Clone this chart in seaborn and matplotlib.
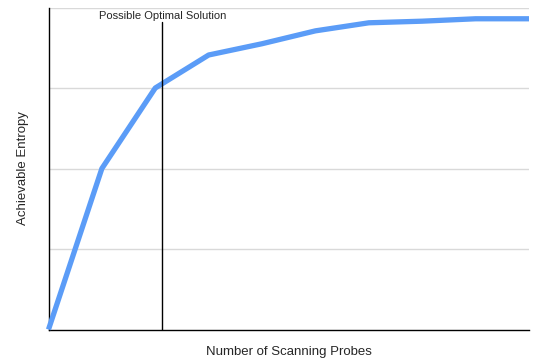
import numpy as np
import pandas as pd
import matplotlib.pyplot as plt
import seaborn as sns

## ===================================================================== ##

probes = [0, 1, 2, 3, 4, 5, 6, 7, 8, 9]
entropy = [0.0, 2.0, 3.0, 3.41, 3.55, 3.71, 3.81, 3.83, 3.86, 3.86]
optimal_x = 2.13
optimal_label = 'Possible Optimal Solution'

df = pd.DataFrame({'probes': probes, 'entropy': entropy})

## ===================================================================== ##

sns.set_style('white')
plt.rcParams['font.family'] = ['Liberation Sans', 'DejaVu Sans']

fig = plt.figure(figsize=(5.36, 3.58), dpi=100)
ax = fig.add_axes([48.5 / 536, 1 - 329.5 / 358, (529 - 48.5) / 536, (329.5 - 7.5) / 358])

for yv in [1, 2, 3, 4]:
	ax.axhline(yv, color='#d9d9d9', lw=1.0, zorder=0)

sns.lineplot(data=df, x='probes', y='entropy', ax=ax, color='#5b9cf7', lw=3.8,
			 solid_capstyle='butt', clip_on=False, zorder=3)

ax.plot([optimal_x, optimal_x], [0, 3.82], color='black', lw=1.0, zorder=4)
ax.text(optimal_x, 3.83, optimal_label, ha='center', va='bottom', fontsize=8)

ax.set_xlim(0, 9)
ax.set_ylim(0, 4)
ax.set_xticks([])
ax.set_yticks([])
ax.set_xlabel('Number of Scanning Probes', fontsize=9.5, labelpad=12)
ax.set_ylabel('Achievable Entropy', fontsize=9.5, labelpad=14)

sns.despine(ax=ax, top=True, right=True)
for side in ['left', 'bottom']:
	ax.spines[side].set_color('black')
	ax.spines[side].set_linewidth(1.0)

fig.savefig('out.png', dpi=100)
